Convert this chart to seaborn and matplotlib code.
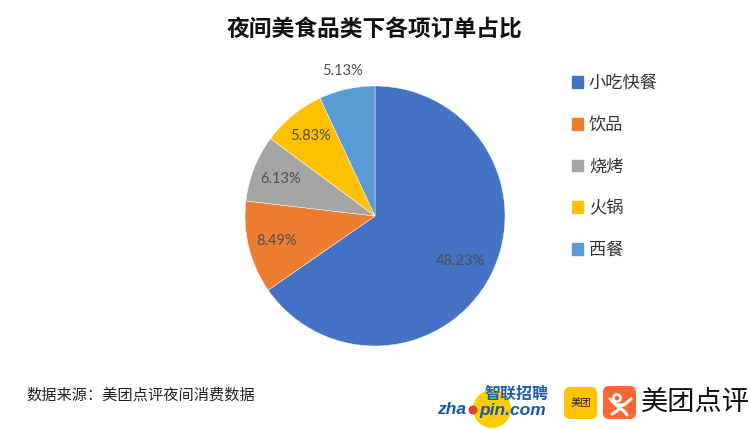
import matplotlib
matplotlib.use('Agg')
import numpy as np
import matplotlib.pyplot as plt
from matplotlib.patches import Circle, FancyBboxPatch
import seaborn as sns

categories = ['小吃快餐', '饮品', '烧烤', '火锅', '西餐']
shares = [48.23, 8.49, 6.13, 5.83, 5.13]
colors = ['#4472C4', '#ED7D31', '#A5A5A5', '#FFC000', '#5B9BD5']

title = '夜间美食品类下各项订单占比'
source = '数据来源：美团点评夜间消费数据'

sns.set_theme(style='white')
plt.rcParams['font.family'] = ['Noto Sans CJK SC', 'DejaVu Sans']

W, H = 750, 429
fig = plt.figure(figsize=(W / 100, H / 100), dpi=100)

# pie axes, 260px across
ax = fig.add_axes([245 / W, (H - 346) / H, 260 / W, 260 / H])
palette = sns.color_palette(colors)
wedges, _ = ax.pie(shares, colors=palette, startangle=90, counterclock=False,
                   radius=1, wedgeprops={'edgecolor': 'white', 'linewidth': 0.3})
ax.set_xlim(-1, 1)
ax.set_ylim(-1, 1)

# label distance from centre, last one sits outside the pie
dist = [0.74, 0.78, 0.78, 0.79, 1.14]
for w, s, d in zip(wedges, shares, dist):
    a = np.deg2rad((w.theta1 + w.theta2) / 2)
    ax.text(d * np.cos(a), d * np.sin(a), f'{s:.2f}%', ha='center', va='center',
            fontsize=10.5, family='Lato', color='#505050', clip_on=False)

handles = [plt.Rectangle((0, 0), 1, 1, color=c) for c in palette]
fig.legend(handles, categories, loc='upper left', bbox_to_anchor=(572 / W, 1 - 74 / H),
           frameon=False, fontsize=12.4, handlelength=0.66, handleheight=0.66,
           handletextpad=0.32, labelspacing=1.38, labelcolor='#333333',
           borderaxespad=0, borderpad=0)

fig.text(375 / W, 1 - 29 / H, title, ha='center', va='center', fontsize=16.4,
         fontweight='bold', color='#111111')
fig.text(26.5 / W, 1 - 395 / H, source, ha='left', va='center', fontsize=10.95, color='#222222')

# logos, drawn on a full figure overlay in pixel coordinates
lg = fig.add_axes([0, 0, 1, 1], zorder=5)
lg.set_xlim(0, W)
lg.set_ylim(H, 0)
lg.axis('off')
lg.patch.set_alpha(0)

lg.add_patch(Circle((492, 409), 19, color='#FFCC00', lw=0))
lg.text(516.5, 394, '智联招聘', ha='center', va='center', fontsize=11.5, fontweight='bold',
        color='#1F5FAE')
lg.text(437, 410, 'zha', ha='left', va='center', fontsize=12.5, fontweight='bold',
        color='#1259AE', style='italic', family='Liberation Sans')
lg.add_patch(Circle((473, 410), 4.5, color='#D9433A', lw=0))
lg.text(479, 410, 'pin.com', ha='left', va='center', fontsize=12.5, fontweight='bold',
        color='#1259AE', style='italic', family='Liberation Sans')

lg.add_patch(FancyBboxPatch((569, 392), 23, 22, boxstyle='round,pad=5,rounding_size=6',
                            color='#FFC300', lw=0))
lg.text(580.5, 403, '美团', ha='center', va='center', fontsize=7.5, color='#222222')

lg.add_patch(FancyBboxPatch((608, 391), 23, 23, boxstyle='round,pad=5,rounding_size=6',
                            color='#FF6633', lw=0))
lg.add_patch(Circle((617, 398), 3.6, facecolor='none', edgecolor='white', lw=1.8))
lg.plot([610, 616, 624, 631], [399, 405, 405, 399], color='white', lw=2.2, solid_capstyle='round')
lg.plot([622, 617, 612], [405, 411, 414], color='white', lw=2.2, solid_capstyle='round')
lg.plot([618, 624, 627], [407, 411, 415], color='white', lw=2.2, solid_capstyle='round')

lg.text(641, 402, '美团点评', ha='left', va='center', fontsize=19.6, color='#111111')

plt.savefig('out.png', dpi=100)
